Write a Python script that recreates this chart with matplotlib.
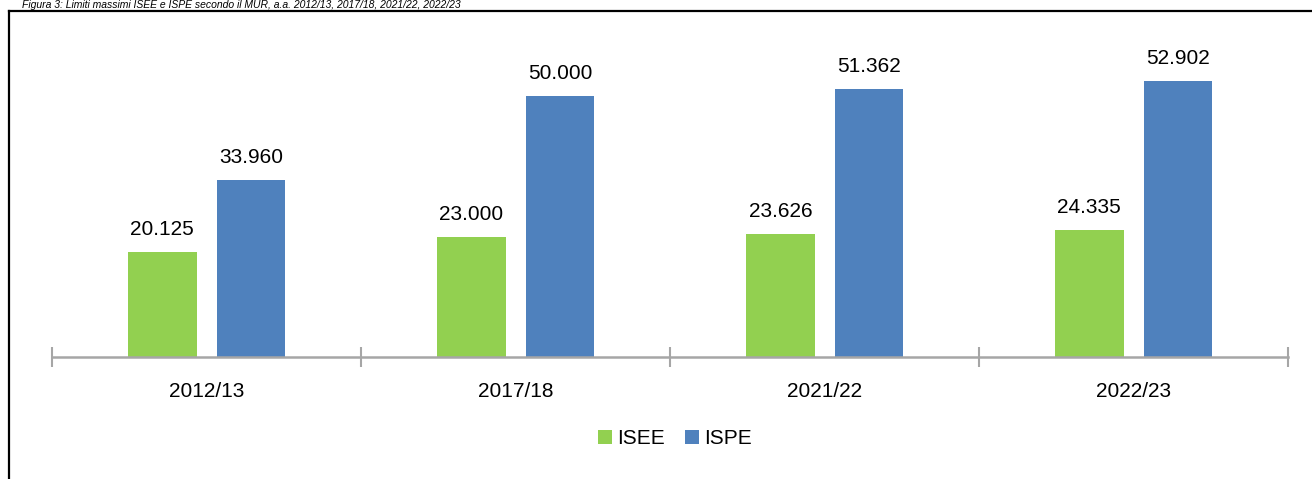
import matplotlib
matplotlib.use("Agg")
from matplotlib import pyplot as plt
from matplotlib.lines import Line2D
import numpy as np

plt.rcParams['font.family'] = ['Liberation Sans', 'DejaVu Sans']

years = ['2012/13', '2017/18', '2021/22', '2022/23']
isee = [20125, 23000, 23626, 24335]
ispe = [33960, 50000, 51362, 52902]
isee_labels = ['20.125', '23.000', '23.626', '24.335']
ispe_labels = ['33.960', '50.000', '51.362', '52.902']
title = 'Figura 3: Limiti massimi ISEE e ISPE secondo il MUR, a.a. 2012/13, 2017/18, 2021/22, 2022/23'

green = '#92D050'
blue = '#4F81BD'
grey = '#A6A6A6'

W, H = 1312, 479
fig = plt.figure(figsize=(W / 100, H / 100), dpi=100)

# outer frame (cut by the image edges)
fig.add_artist(Line2D([9 / W, 9 / W], [-0.1, 1 - 11 / H], transform=fig.transFigure,
                      color='black', lw=1.6))
fig.add_artist(Line2D([9 / W, 1.1], [1 - 11 / H, 1 - 11 / H], transform=fig.transFigure,
                      color='black', lw=1.6))
fig.text(22 / W, 1 - 8 / H, title, fontsize=7.5, style='italic', va='baseline', ha='left')

ax = fig.add_axes([52 / W, (H - 357) / H, 1236 / W, 313.2 / H])
x = np.arange(len(years))
w = 0.223
b1 = ax.bar(x - 0.143, isee, w, color=green, label='ISEE')
b2 = ax.bar(x + 0.144, ispe, w, color=blue, label='ISPE')
for bars, labs in ((b1, isee_labels), (b2, ispe_labels)):
    for r, s in zip(bars, labs):
        ax.annotate(s, (r.get_x() + r.get_width() / 2, r.get_height()), xytext=(0, 16),
                    textcoords='offset points', ha='center', va='center', fontsize=15)

ax.set_xlim(-0.5, len(years) - 0.5)
ax.set_ylim(0, 60000)
for s in ['top', 'right', 'left']:
    ax.spines[s].set_visible(False)
ax.spines['bottom'].set_color(grey)
ax.spines['bottom'].set_linewidth(1.8)
ax.set_yticks([])
ax.set_xticks(np.arange(-0.5, len(years)), minor=False)
ax.set_xticklabels([])
ax.tick_params(axis='x', which='major', direction='inout', length=15, width=1.5, color=grey)
ax.set_xticks(x, minor=True)
ax.set_xticklabels(years, minor=True, fontsize=15)
ax.tick_params(axis='x', which='minor', length=0, pad=18)

fig.legend(handles=[b1, b2], loc='center', bbox_to_anchor=(675 / W, 1 - 439 / H),
           ncol=2, frameon=False, fontsize=15, handlelength=0.65, handleheight=0.65,
           handletextpad=0.25, columnspacing=1.0)

fig.savefig('out.png', dpi=100)
